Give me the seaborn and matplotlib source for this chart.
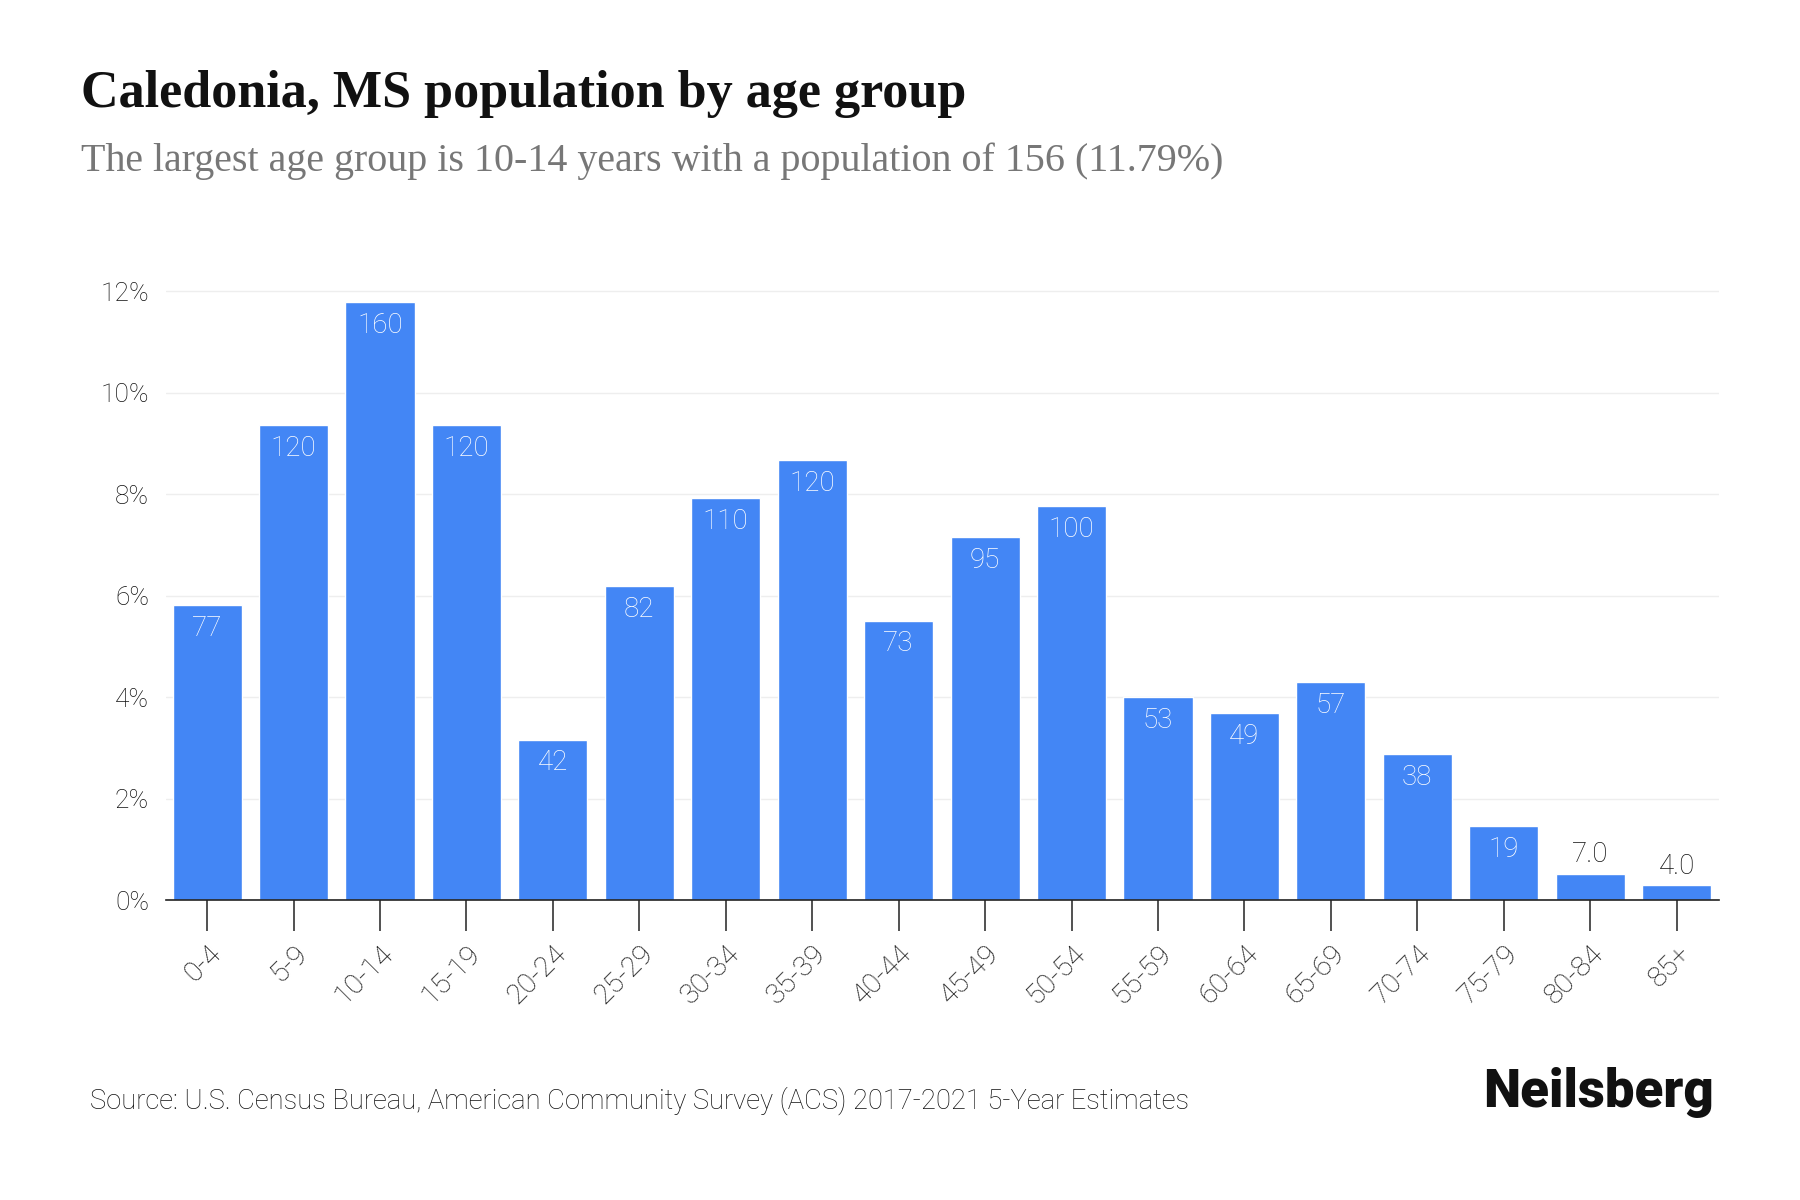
import matplotlib
matplotlib.use("Agg")
import matplotlib.pyplot as plt
import seaborn as sns
import pandas as pd

age_groups = ["0-4", "5-9", "10-14", "15-19", "20-24", "25-29", "30-34", "35-39", "40-44",
              "45-49", "50-54", "55-59", "60-64", "65-69", "70-74", "75-79", "80-84", "85+"]
percents = [5.81, 9.36, 11.79, 9.36, 3.16, 6.19, 7.93, 8.68, 5.51,
            7.16, 7.77, 4.00, 3.68, 4.29, 2.87, 1.45, 0.52, 0.29]
labels = ["77", "120", "160", "120", "42", "82", "110", "120", "73",
          "95", "100", "53", "49", "57", "38", "19", "7.0", "4.0"]
yticks = [0, 2, 4, 6, 8, 10, 12]

df = pd.DataFrame({"age": age_groups, "pct": percents, "label": labels})

sns.set_theme(style="white")
plt.rcParams["font.family"] = ["Roboto", "DejaVu Sans"]

fig = plt.figure(figsize=(18, 12), dpi=100)
ax = fig.add_axes([0.092, 0.25, 0.863, 0.508])

sns.barplot(data=df, x="age", y="pct", color="#4386f5", saturation=1, width=0.8, ax=ax)

ax.set_ylim(0, 12.02)
ax.set_xlim(-0.48, len(age_groups) - 0.51)
ax.set_yticks(yticks)
ax.set_yticklabels([f"{t}%" for t in yticks], fontsize=19, color="#111111", fontweight="light")
ax.yaxis.grid(True, color="#eeeeee", linewidth=1)
ax.set_axisbelow(True)
for s in ["top", "right", "left"]:
    ax.spines[s].set_visible(False)
ax.spines["bottom"].set_color("#222222")
ax.spines["bottom"].set_linewidth(1.2)
ax.tick_params(axis="y", left=False, length=0, pad=12)
ax.tick_params(axis="x", bottom=True, length=22, width=1.2, color="#333333", pad=7)
ax.set_xticks(range(len(age_groups)))
ax.set_xticklabels(age_groups, rotation=45, ha="right", rotation_mode="anchor",
                   fontsize=20.5, color="#111111", fontweight="light")
ax.set_xlabel("")
ax.set_ylabel("")

for i, (p, l) in enumerate(zip(percents, labels)):
    if p > 1.0:
        ax.annotate(l, (i, p), xytext=(0, -7), textcoords="offset points",
                    ha="center", va="top", color="white", fontsize=20, fontweight="light")
    else:
        ax.annotate(l, (i, p), xytext=(0, 4), textcoords="offset points",
                    ha="center", va="bottom", color="#111111", fontsize=20, fontweight="light")

fig.text(0.045, 0.922, "Caledonia, MS population by age group", fontsize=37.5,
         fontweight="bold", family=["Liberation Serif"], color="#111111", va="center")
fig.text(0.045, 0.866, "The largest age group is 10-14 years with a population of 156 (11.79%)",
         fontsize=28.8, family=["Liberation Serif"], color="#777777", va="center")
fig.text(0.05, 0.083, "Source: U.S. Census Bureau, American Community Survey (ACS) 2017-2021 5-Year Estimates",
         fontsize=19.7, color="#111111", va="center", fontweight="light")
fig.text(0.952, 0.09, "Neilsberg", fontsize=38, fontweight="heavy", color="#111111",
         ha="right", va="center")

fig.savefig("out.png", dpi=100, facecolor="white")
